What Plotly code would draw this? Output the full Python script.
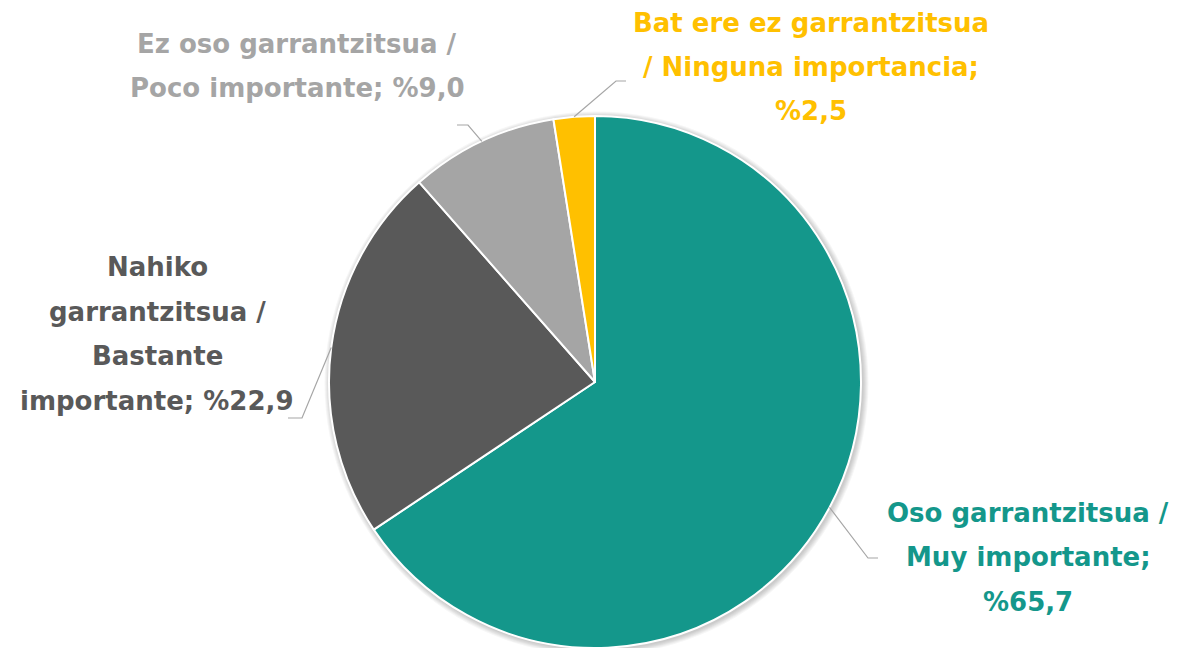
import math
import plotly.graph_objects as go

# ---- data ----
labels = [
    "Oso garrantzitsua / Muy importante",
    "Nahiko garrantzitsua / Bastante importante",
    "Ez oso garrantzitsua / Poco importante",
    "Bat ere ez garrantzitsua / Ninguna importancia",
]
values = [65.7, 22.9, 9.0, 2.5]
label_lines = [
    ["Oso garrantzitsua /", "Muy importante;", "%65,7"],
    ["Nahiko", "garrantzitsua /", "Bastante", "importante; %22,9"],
    ["Ez oso garrantzitsua /", "Poco importante; %9,0"],
    ["Bat ere ez garrantzitsua", "/ Ninguna importancia;", "%2,5"],
]
colors = ["#14978B", "#595959", "#A5A5A5", "#FFC000"]

# ---- layout helpers (pixels -> paper); page body has an 8px offset ----
W, H = 1178, 648
OFF = 8
CX, CY, R = 595, 382, 266
def px(x):
    return (x - OFF) / W
def py(y):
    return 1 - (y - OFF) / H

# label block centres (pixels) and elbow points of leader lines
label_pos = [(1028, 557), (157, 334), (297, 66), (811, 67)]
elbows = [((868, 558), (878, 558)), ((302, 418), (288, 418)),
          ((468, 125), (457, 125)), ((616, 81), (626, 81))]
line_gap = 44.5
FONT = "DejaVu Sans"
FSIZE = 26

fig = go.Figure(go.Pie(
    labels=labels, values=values, sort=False, direction="clockwise", rotation=0,
    marker=dict(colors=colors, line=dict(color="white", width=2)),
    textinfo="none", hoverinfo="label+percent", showlegend=False,
    domain=dict(x=[px(CX - R), px(CX + R)], y=[py(CY + R), py(CY - R)]),
))

annotations = []
shapes = []

# soft shadow behind the pie
for k in range(6, 0, -1):
    r = R + k
    shapes.append(dict(type="circle", xref="paper", yref="paper", layer="below",
                       x0=px(CX + 1.5 - r), x1=px(CX + 1.5 + r),
                       y0=py(CY + 1.5 + r), y1=py(CY + 1.5 - r),
                       fillcolor="rgba(0,0,0,0.035)", line=dict(width=0)))

total = sum(values)
cum = 0.0
for i, v in enumerate(values):
    mid = (cum + v / 2) / total * 2 * math.pi
    cum += v
    sx = CX + R * math.sin(mid)
    sy = CY - R * math.cos(mid)
    (ex, ey), (tx, ty) = elbows[i]
    shapes.append(dict(type="path", xref="paper", yref="paper",
                       path=f"M {px(sx)},{py(sy)} L {px(ex)},{py(ey)} L {px(tx)},{py(ty)}",
                       line=dict(color="#A6A6A6", width=1.2)))
    lx, ly = label_pos[i]
    n = len(label_lines[i])
    for k, t in enumerate(label_lines[i]):
        yy = ly + (k - (n - 1) / 2) * line_gap
        annotations.append(dict(x=px(lx), y=py(yy), xref="paper", yref="paper",
                                text=t, showarrow=False, xanchor="center", yanchor="middle",
                                font=dict(family=FONT, size=FSIZE, color=colors[i], weight="bold")))

fig.update_layout(
    width=W, height=H, margin=dict(l=0, r=0, t=0, b=0),
    paper_bgcolor="white", plot_bgcolor="white",
    annotations=annotations, shapes=shapes,
)
fig.write_html("out.html")
